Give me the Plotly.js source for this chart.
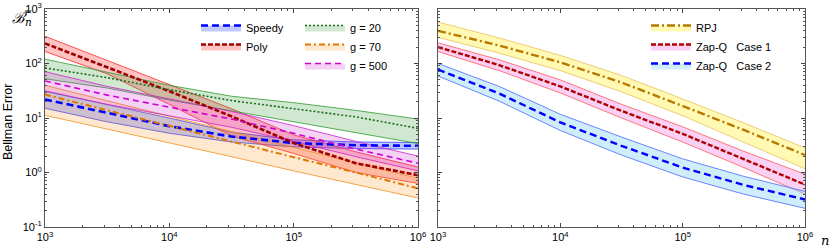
<!DOCTYPE html>
<html><head><meta charset="utf-8">
<script src="https://cdn.plot.ly/plotly-3.0.1.min.js"></script>
<style>html,body{margin:0;padding:0;background:#fff}#chart{width:831px;height:252px}</style>
</head><body><div id="chart"></div>
<script>
// sample sizes n
const n = [1e3, 3162, 1e4, 31623, 1e5, 316228, 1e6];

// Left panel
const speedyMean = [21.9, 12.3, 7.08, 4.57, 3.47, 3.16, 3.09];
const speedyUp   = [30.9, 17.8, 10.0, 5.5, 3.98, 3.63, 3.55];
const speedyLo   = [15.1, 8.5, 5.25, 3.63, 2.95, 2.75, 2.69];
const polyMean = [234, 85, 31, 10.7, 3.47, 1.48, 0.89];
const polyUp   = [316, 115, 41.7, 14.8, 4.9, 2.4, 1.26];
const polyLo   = [166, 64.6, 17.8, 4.68, 2.24, 1.0, 0.63];
const g20Mean = [83, 55, 33, 20.9, 14.8, 10.5, 6.46];
const g20Up   = [120, 69.2, 39.8, 25.1, 19.1, 13.8, 9.55];
const g20Lo   = [52.5, 35.5, 21.4, 13.5, 8.3, 5.4, 3.4];
const g70Mean = [26.9, 13.8, 7.24, 3.72, 1.91, 1.0, 0.51];
const g70Up   = [39.8, 20.9, 10.7, 5.62, 2.88, 1.51, 0.78];
const g70Lo   = [11.2, 6.3, 3.47, 1.95, 1.07, 0.60, 0.34];
const g500Mean = [47.9, 26.3, 15.8, 9.55, 5.25, 2.69, 1.48];
const g500Up   = [70.8, 38, 22.4, 13.2, 7.24, 3.72, 2.0];
const g500Lo   = [31.6, 17.8, 11, 6.76, 3.72, 1.95, 1.07];

// Right panel
const rpjMean = [398, 214, 105, 44.7, 16.6, 6.03, 2.09];
const rpjUp   = [575, 295, 141, 60.3, 22.4, 8.13, 2.82];
const rpjLo   = [302, 155, 74, 30.2, 11, 3.63, 1.17];
const zap1Mean = [200, 93.3, 38, 13.5, 5.13, 1.78, 0.60];
const zap1Up   = [240, 117, 50.1, 17.8, 6.9, 2.45, 0.93];
const zap1Lo   = [166, 74, 28.8, 10, 3.63, 1.23, 0.40];
const zap2Mean = [77.6, 28.2, 8.3, 3.09, 1.23, 0.59, 0.32];
const zap2Up   = [100, 38, 11.7, 4.47, 1.78, 0.85, 0.45];
const zap2Lo   = [58.9, 20.4, 5.9, 2.09, 0.83, 0.40, 0.22];

const yTickVals = [0.1, 1, 10, 100, 1000];
const xTickVals = [1e3, 1e4, 1e5, 1e6];
const powLabel = v => '10<sup>' + Math.round(Math.log10(v)) + '</sup>';
const yTickText = yTickVals.map(powLabel);
const xTickText = xTickVals.map(powLabel);

const series = [
  {name:'Speedy', m:speedyMean, u:speedyUp, l:speedyLo, ax:1, leg:'legend',
   line:'#0000ff', w:2.6, dash:'7px,4px', edge:'#3344ff', fill:'rgba(30,60,255,0.28)'},
  {name:'Poly', m:polyMean, u:polyUp, l:polyLo, ax:1, leg:'legend',
   line:'#a00000', w:2.6, dash:'5px,2px', edge:'#ff2a2a', fill:'rgba(255,40,40,0.28)'},
  {name:'g = 20', m:g20Mean, u:g20Up, l:g20Lo, ax:1, leg:'legend2',
   line:'#1d6b1d', w:1.6, dash:'2px,2px', edge:'#2e9a2e', fill:'rgba(40,150,40,0.22)'},
  {name:'g = 70', m:g70Mean, u:g70Up, l:g70Lo, ax:1, leg:'legend2',
   line:'#e07800', w:2, dash:'6px,3px,2px,3px', edge:'#f09020', fill:'rgba(250,150,40,0.22)'},
  {name:'g = 500', m:g500Mean, u:g500Up, l:g500Lo, ax:1, leg:'legend2',
   line:'#d000d0', w:1.6, dash:'6px,4px', edge:'#cc22cc', fill:'rgba(210,50,210,0.22)'},
  {name:'RPJ', m:rpjMean, u:rpjUp, l:rpjLo, ax:2, leg:'legend3',
   line:'#b87800', w:2.4, dash:'8px,3px,2px,3px', edge:'#e8c060', fill:'rgba(255,238,40,0.35)'},
  {name:'Zap-Q   Case 1', m:zap1Mean, u:zap1Up, l:zap1Lo, ax:2, leg:'legend3',
   line:'#b00000', w:2.4, dash:'5px,2px', edge:'#ff5a5a', fill:'rgba(245,170,235,0.55)'},
  {name:'Zap-Q   Case 2', m:zap2Mean, u:zap2Up, l:zap2Lo, ax:2, leg:'legend3',
   line:'#0000ff', w:2.4, dash:'7px,4px', edge:'#4a6aff', fill:'rgba(160,220,245,0.5)'}
];

const traces = [];
series.forEach(s => {
  const xa = s.ax === 1 ? 'x' : 'x2', ya = s.ax === 1 ? 'y' : 'y2';
  traces.push({x:n, y:s.l, xaxis:xa, yaxis:ya, mode:'lines', line:{color:s.edge, width:0.8},
    showlegend:false, hoverinfo:'skip'});
  traces.push({x:n, y:s.u, xaxis:xa, yaxis:ya, mode:'lines', line:{color:s.edge, width:0.8},
    fill:'tonexty', fillcolor:s.fill, showlegend:false, hoverinfo:'skip'});
});
series.forEach(s => {
  const xa = s.ax === 1 ? 'x' : 'x2', ya = s.ax === 1 ? 'y' : 'y2';
  traces.push({x:n, y:s.m, xaxis:xa, yaxis:ya, mode:'lines',
    line:{color:s.line, width:s.w, dash:s.dash}, showlegend:false});
});
// legend entries
series.forEach(s => {
  const xa = s.ax === 1 ? 'x' : 'x2', ya = s.ax === 1 ? 'y' : 'y2';
  traces.push({x:[null], y:[null], xaxis:xa, yaxis:ya, mode:'lines', name:s.name,
    line:{color:s.line, width:s.w, dash:s.dash}, fill:'toself', fillcolor:s.fill,
    legend:s.leg, showlegend:true});
});

const font = {family:'Liberation Sans, Arial, sans-serif', size:11, color:'#000'};
function xax(dom){
  return {type:'log', domain:dom, range:[3,6], tickvals:xTickVals, ticktext:xTickText,
    ticks:'inside', ticklen:4, tickcolor:'#444', showline:true, linecolor:'#555', linewidth:1,
    mirror:'ticks', showgrid:false, zeroline:false, tickfont:font,
    minor:{ticks:'inside', ticklen:2, tickcolor:'#555', dtick:'D1', showgrid:false}};
}
function yax(anchor, labels){
  return {type:'log', domain:[1-227/252, 1-9/252], range:[-1,3], tickvals:yTickVals, ticktext:yTickText,
    showticklabels:labels, ticks:'inside', ticklen:4, tickcolor:'#444',
    showline:true, linecolor:'#555', linewidth:1, mirror:'ticks', showgrid:false, zeroline:false,
    tickfont:font, anchor:anchor,
    minor:{ticks:'inside', ticklen:2, tickcolor:'#555', dtick:'D1', showgrid:false}};
}
const legBase = {bgcolor:'rgba(0,0,0,0)', borderwidth:0, font:{family:font.family, size:11, color:'#000'},
  itemwidth:40, tracegroupgap:0, traceorder:'normal', xanchor:'left', yanchor:'top'};

const layout = {
  width:831, height:252, margin:{l:0, r:0, t:0, b:0}, paper_bgcolor:'#fff', plot_bgcolor:'#fff',
  showlegend:true,
  xaxis: Object.assign(xax([45/831, 418/831]), {anchor:'y'}),
  yaxis: yax('x', true),
  xaxis2: Object.assign(xax([438/831, 805/831]), {anchor:'y2'}),
  yaxis2: yax('x2', false),
  legend: Object.assign({}, legBase, {x:196/831, y:1-13/252}),
  legend2: Object.assign({}, legBase, {x:300/831, y:1-13/252}),
  legend3: Object.assign({}, legBase, {x:646/831, y:1-13/252}),
  annotations:[
    {text:'Bellman Error', xref:'paper', yref:'paper', x:8/831, y:1-122/252, textangle:-90,
     showarrow:false, font:{family:font.family, size:12.5, color:'#000'}, xanchor:'center', yanchor:'middle'},
    {text:'<i>ℬ̅</i><sub><i>n</i></sub>', xref:'paper', yref:'paper', x:10/831, y:1-19/252,
     showarrow:false, font:{family:'DejaVu Serif, serif', size:15, color:'#000'}, xanchor:'left', yanchor:'middle'},
    {text:'<i>n</i>', xref:'paper', yref:'paper', x:825/831, y:1-240/252, showarrow:false,
     font:{family:'DejaVu Serif, serif', size:13, color:'#000'}, xanchor:'center', yanchor:'middle'}
  ]
};
Plotly.newPlot('chart', traces, layout, {staticPlot:true, displayModeBar:false});
</script></body></html>
